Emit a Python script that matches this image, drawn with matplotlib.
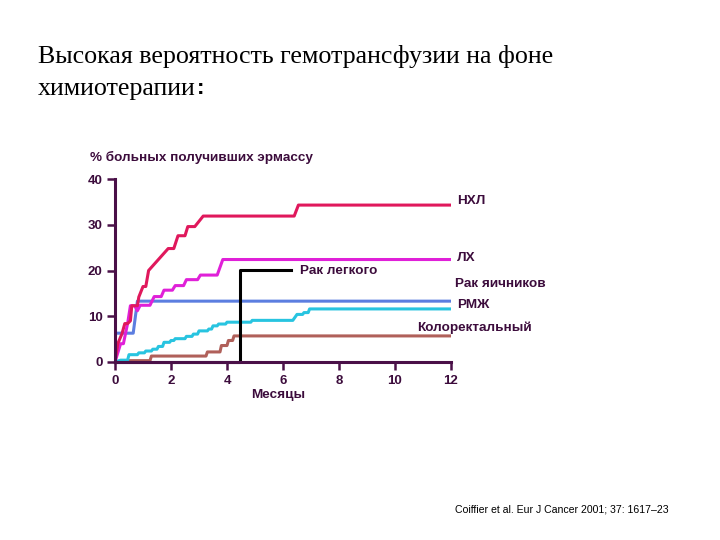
import matplotlib
matplotlib.use("Agg")
import matplotlib.pyplot as plt

# Data (months, % patients)
nhl_x = [0, 0.1, 0.25, 0.35, 0.45, 0.55, 0.6, 0.8, 0.85, 1.0, 1.1, 1.2, 1.9, 2.1, 2.25, 2.5, 2.6, 2.85, 3.15, 6.4, 6.55, 12]
nhl_y = [0, 4.0, 6.2, 8.4, 8.4, 9.0, 12.3, 12.3, 14.2, 16.5, 16.5, 20.0, 24.8, 24.8, 27.6, 27.6, 29.6, 29.6, 31.9, 31.9, 34.3, 34.3]

lx_x = [0, 0.2, 0.3, 0.45, 0.55, 0.7, 0.8, 0.9, 1.25, 1.4, 1.65, 1.75, 2.05, 2.15, 2.45, 2.55, 2.95, 3.05, 3.65, 3.85, 12]
lx_y = [0, 4.0, 4.0, 8.4, 12.3, 12.3, 11.2, 12.4, 12.4, 14.3, 14.3, 15.7, 15.7, 16.7, 16.7, 18.0, 18.0, 19.0, 19.0, 22.4, 22.4]

ov_x = [0, 0.02, 0.65, 0.8, 12]
ov_y = [0, 6.3, 6.3, 13.3, 13.3]

br_x = [0, 0.2, 0.45, 0.5, 0.8, 0.85, 1.05, 1.1, 1.3, 1.35, 1.5, 1.55, 1.7, 1.75, 1.95, 2.0, 2.1, 2.15, 2.5, 2.55, 2.75, 2.8, 2.95, 3.0, 3.3, 3.35, 3.45, 3.5, 3.65, 3.7, 3.95, 4.0, 4.85, 4.9, 6.35, 6.5, 6.7, 6.75, 6.9, 6.95, 12]
br_y = [0, 0.4, 0.4, 1.6, 1.6, 2.0, 2.0, 2.4, 2.4, 2.8, 2.8, 3.4, 3.4, 4.3, 4.3, 4.7, 4.7, 5.1, 5.1, 5.6, 5.6, 6.1, 6.1, 6.8, 6.8, 7.2, 7.2, 7.9, 7.9, 8.3, 8.3, 8.7, 8.7, 9.1, 9.1, 10.4, 10.4, 10.8, 10.8, 11.6, 11.6]

crc_x = [0, 0.4, 1.25, 1.3, 3.25, 3.3, 3.75, 3.8, 4.0, 4.05, 4.2, 4.25, 12]
crc_y = [0, 0.3, 0.3, 1.3, 1.3, 2.2, 2.2, 3.6, 3.6, 4.7, 4.7, 5.7, 5.7]

lung_x = [0, 4.45, 4.45, 6.3]
lung_y = [0, 0, 20.2, 20.2]

x_ticks = [0, 2, 4, 6, 8, 10, 12]
y_ticks = [0, 10, 20, 30, 40]

purple = "#4a1048"
txt = "#3c0c3c"

fig = plt.figure(figsize=(7.2, 5.4), dpi=100)
ax = fig.add_axes([115/720, 1-362/540, 336/720, 183/540])

lw = 2.2
ax.plot(crc_x, crc_y, color="#b0605a", lw=lw)
ax.plot(br_x, br_y, color="#28c4e0", lw=lw)
ax.plot(ov_x, ov_y, color="#5c7ee0", lw=lw)
ax.plot(lx_x, lx_y, color="#e020d8", lw=lw)
ax.plot(nhl_x, nhl_y, color="#e0185c", lw=lw)
ax.plot(lung_x, lung_y, color="black", lw=2.2, clip_on=False)

ax.set_xlim(0, 12)
ax.set_ylim(0, 40)
for s in ["top", "right"]:
    ax.spines[s].set_visible(False)
for s in ["left", "bottom"]:
    ax.spines[s].set_color(purple)
    ax.spines[s].set_linewidth(2.2)
ax.set_xticks(x_ticks)
ax.set_yticks(y_ticks)
ax.tick_params(axis="both", colors=purple, length=6, width=1.8, labelsize=9.5, pad=3)
for lab in ax.get_xticklabels() + ax.get_yticklabels():
    lab.set_fontweight("bold")
    lab.set_color(txt)
    lab.set_family("Liberation Sans")

fs = 9.7
kw = dict(fontsize=fs, fontweight="bold", color=txt, family="Liberation Sans", va="center")
fig.text(457/720, 1-201/540, "НХЛ", **kw)
fig.text(457/720, 1-258/540, "ЛХ", **kw)
fig.text(300/720, 1-271/540, "Рак легкого", **kw)
fig.text(455/720, 1-284/540, "Рак яичников", **kw)
fig.text(457/720, 1-305/540, "РМЖ", **kw)
fig.text(417/720, 1-328/540, "Колоректальный", **kw)
fig.text(90/720, 1-157/540, "% больных получивших эрмассу", **kw)
fig.text(278/720, 1-395/540, "Месяцы", ha="center", **kw)

tfs = 18.7
fig.text(38/720, 1-57/540, "Высокая вероятность гемотрансфузии на фоне",
         fontsize=tfs, family="Liberation Serif", color="black", va="center")
fig.text(38/720, 1-89/540, "химиотерапии", fontsize=tfs, family="Liberation Serif",
         color="black", va="center")
fig.text(196.5/720, 1-88/540, ":", fontsize=16, family="Liberation Sans", fontweight="bold",
         color="black", va="center")

fig.text(455/720, 1-510/540, "Coiffier et al. Eur J Cancer 2001; 37: 1617–23",
         fontsize=7.55, family="Liberation Sans", color="black", va="center")

fig.savefig("out.png", dpi=100)
